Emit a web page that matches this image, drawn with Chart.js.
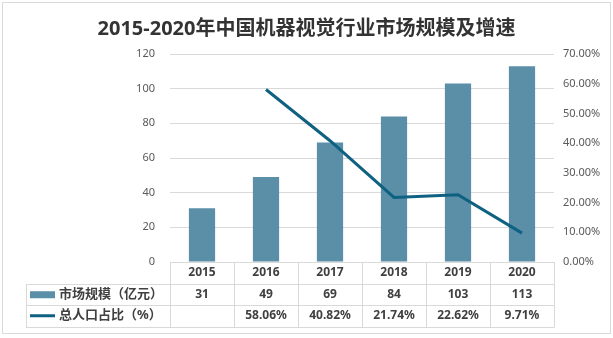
<!DOCTYPE html>
<html lang="zh">
  <head>
    <meta charset="UTF-8" />
    <title>2015-2020年中国机器视觉行业市场规模及增速</title>
    <script src="https://cdn.jsdelivr.net/npm/chart.js"></script>
    <style>
      html, body { margin: 0; padding: 0; background: #fff; }
      #wrap { width: 613px; height: 338px; }
    </style>
  </head>
  <body>
    <div id="wrap"><canvas id="chart" width="613" height="338"></canvas></div>
    <script>
      const years = ["2015", "2016", "2017", "2018", "2019", "2020"];
      const marketSize = [31, 49, 69, 84, 103, 113];
      const growthRate = [null, 58.06, 40.82, 21.74, 22.62, 9.71];
      const barLabel = "市场规模（亿元）";
      const lineLabel = "总人口占比（%）";

      const barColor = "#5b8fa7";
      const lineColor = "#0f6182";
      const gridColor = "#d9d9d9";
      const textColor = "#404040";
      const fontFamily = "'Noto Sans', 'Noto Sans CJK SC', sans-serif";

      // draws the data table under the plot plus the outer frame
      const tablePlugin = {
        id: "dataTable",
        afterDraw(chart) {
          const ctx = chart.ctx;
          const area = chart.chartArea;
          const x = chart.scales.x;
          const rowH = 21.5;
          const top = area.bottom;
          const legendLeft = 26;
          const half = (x.getPixelForValue(1) - x.getPixelForValue(0)) / 2;

          ctx.save();
          ctx.strokeStyle = gridColor;
          ctx.lineWidth = 1;
          ctx.beginPath();
          // horizontal lines
          ctx.moveTo(area.left, top + 0.5);
          ctx.lineTo(area.right, top + 0.5);
          for (let r = 1; r <= 3; r++) {
            const y = Math.round(top + rowH * r) + 0.5;
            ctx.moveTo(legendLeft, y);
            ctx.lineTo(area.right, y);
          }
          // vertical lines
          const bottom = Math.round(top + rowH * 3) + 0.5;
          for (let i = 0; i <= years.length; i++) {
            const px = Math.round(x.getPixelForValue(i) - half) + 0.5;
            ctx.moveTo(px, top);
            ctx.lineTo(px, bottom);
          }
          ctx.moveTo(legendLeft + 0.5, Math.round(top + rowH) + 0.5);
          ctx.lineTo(legendLeft + 0.5, bottom);
          ctx.stroke();

          // outer frame
          ctx.strokeRect(2.5, 2.5, 608, 331);

          ctx.fillStyle = textColor;
          ctx.font = "bold 12px " + fontFamily;
          ctx.textAlign = "center";
          ctx.textBaseline = "middle";
          years.forEach((yr, i) => {
            const cx = x.getPixelForValue(i);
            ctx.fillText(yr, cx, top + rowH * 0.5);
            ctx.fillText(String(marketSize[i]), cx, top + rowH * 1.5);
            if (growthRate[i] != null) {
              ctx.fillText(growthRate[i].toFixed(2) + "%", cx, top + rowH * 2.5);
            }
          });

          // legend keys
          ctx.fillStyle = barColor;
          ctx.fillRect(30, top + rowH * 1.5 - 3, 25, 7);
          ctx.strokeStyle = lineColor;
          ctx.lineWidth = 3;
          ctx.beginPath();
          ctx.moveTo(30, top + rowH * 2.5);
          ctx.lineTo(55, top + rowH * 2.5);
          ctx.stroke();

          ctx.fillStyle = textColor;
          ctx.textAlign = "left";
          ctx.font = "bold 13px " + fontFamily;
          ctx.fillText(barLabel, 59, top + rowH * 1.5);
          ctx.fillText(lineLabel, 59, top + rowH * 2.5);
          ctx.restore();
        },
      };

      new Chart(document.getElementById("chart"), {
        data: {
          labels: years,
          datasets: [
            {
              type: "line",
              label: lineLabel,
              data: growthRate,
              yAxisID: "y1",
              borderColor: lineColor,
              borderWidth: 3,
              pointRadius: 0,
              tension: 0,
              spanGaps: false,
              order: 0,
            },
            {
              type: "bar",
              label: barLabel,
              data: marketSize,
              yAxisID: "y",
              backgroundColor: barColor,
              categoryPercentage: 1,
              barPercentage: 0.41,
              order: 1,
            },
          ],
        },
        options: {
          responsive: false,
          animation: false,
          layout: { padding: { left: 0, right: 0, top: 0, bottom: 76 } },
          plugins: {
            legend: { display: false },
            tooltip: { enabled: false },
            title: {
              display: true,
              text: "2015-2020年中国机器视觉行业市场规模及增速",
              color: "#333333",
              font: { size: 20, weight: "bold", family: fontFamily },
              padding: { top: 17, bottom: 13 },
            },
          },
          scales: {
            x: {
              display: false,
            },
            y: {
              position: "left",
              min: 0,
              max: 120,
              ticks: {
                stepSize: 20,
                padding: 15,
                color: "#595959",
                font: { size: 11, family: fontFamily },
              },
              grid: { color: gridColor, drawTicks: false },
              border: { display: false },
              afterFit(scale) {
                scale.width = 170;
              },
            },
            y1: {
              position: "right",
              min: 0,
              max: 70,
              ticks: {
                stepSize: 10,
                padding: 9,
                color: "#595959",
                font: { size: 11, family: fontFamily },
                callback: (v) => v.toFixed(2) + "%",
              },
              grid: { display: false, drawTicks: false },
              border: { display: false },
              afterFit(scale) {
                scale.width = 59;
              },
            },
          },
        },
        plugins: [tablePlugin],
      });
    </script>
  </body>
</html>
